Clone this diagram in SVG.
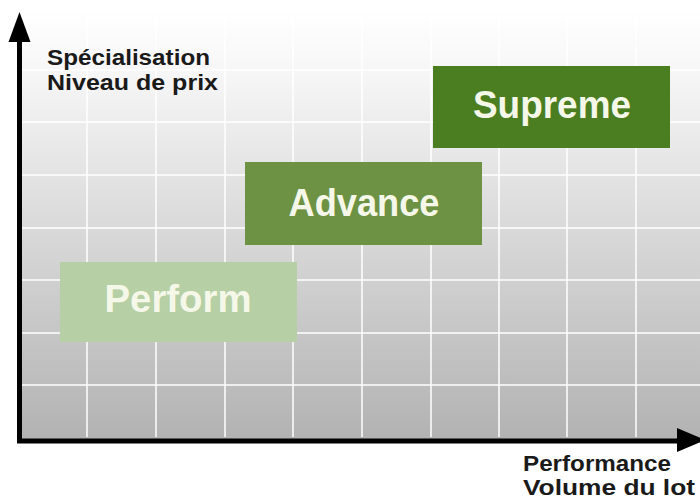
<svg xmlns="http://www.w3.org/2000/svg" width="700" height="501" viewBox="0 0 700 501">
<defs>
<linearGradient id="bg" x1="0" y1="0" x2="0" y2="1">
<stop offset="0" stop-color="#ffffff"/>
<stop offset="0.15" stop-color="#f6f6f6"/>
<stop offset="1" stop-color="#b2b2b2"/>
</linearGradient>
<style>
.grid{stroke:#ffffff;stroke-opacity:0.75;stroke-width:2;fill:none}
.axis{stroke:#000;stroke-width:5;fill:none}
.lbl{font-family:"Liberation Sans",Arial,sans-serif;font-weight:bold;font-size:22.5px;fill:#1a1a1a}
.box{font-family:"Liberation Sans",Arial,sans-serif;font-weight:bold;font-size:38px;fill:#f5f8e9;text-anchor:middle}
</style>
</defs>
<rect x="0" y="0" width="700" height="501" fill="#ffffff"/>
<rect x="20" y="10" width="680" height="430" fill="url(#bg)"/>
<g id="grid" class="grid">
<path d="M87 15V437M156 15V437M225 15V437M293 15V437M362 15V437M431 15V437M499 15V437M567 15V437M636 15V437"/>
<path d="M22 70H700M22 122H700M22 175H700M22 228H700M22 280H700M22 333H700M22 385H700"/>
</g>
<g id="node-supreme">
<rect x="433" y="66" width="237" height="82" fill="#4b7e21"/>
<text class="box" x="552" y="118" textLength="158" lengthAdjust="spacingAndGlyphs">Supreme</text>
</g>
<g id="node-advance">
<rect x="245" y="162" width="237" height="83" fill="#6e9243"/>
<text class="box" x="364" y="216" textLength="151" lengthAdjust="spacingAndGlyphs">Advance</text>
</g>
<g id="node-perform">
<rect x="60" y="262" width="237" height="80" fill="#b6cfa5"/>
<text class="box" x="178" y="312" textLength="147" lengthAdjust="spacingAndGlyphs">Perform</text>
</g>
<g id="connectors">
<path class="axis" d="M19.5 38V441H680"/>
<polygon points="19.5,12 8.5,42 30.5,42" fill="#000"/>
<polygon points="705,440 677,428 677,452" fill="#000"/>
</g>
<g id="labels">
<text class="lbl" x="47" y="65" textLength="163" lengthAdjust="spacingAndGlyphs">Spécialisation</text>
<text class="lbl" x="47" y="90" textLength="171" lengthAdjust="spacingAndGlyphs">Niveau de prix</text>
<text class="lbl" x="523" y="471" textLength="148" lengthAdjust="spacingAndGlyphs">Performance</text>
<text class="lbl" x="523" y="495" textLength="172" lengthAdjust="spacingAndGlyphs">Volume du lot</text>
</g>
</svg>
